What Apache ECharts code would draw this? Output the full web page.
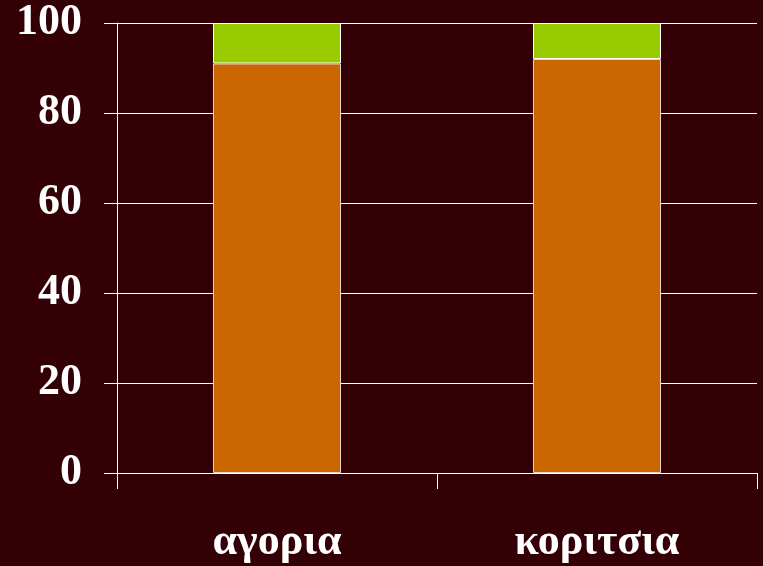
<!DOCTYPE html>
<html>
<head>
<meta charset="utf-8">
<script src="https://cdn.jsdelivr.net/npm/echarts@6/dist/echarts.min.js"></script>
<style>
  html, body { margin: 0; padding: 0; background: #330005; }
  #chart { width: 763px; height: 566px; }
</style>
</head>
<body>
<div id="chart"></div>
<script>
var categories = ["αγορια", "κοριτσια"];
var lowerValues = [91, 92];
var upperValues = [9, 8];
var yTicks = [0, 20, 40, 60, 80, 100];

var chart = echarts.init(document.getElementById("chart"));
var labelFont = {
  color: "#ffffff",
  fontFamily: "Liberation Serif, Times New Roman, serif",
  fontWeight: "bold",
  fontSize: 44
};

chart.setOption({
  backgroundColor: "#330005",
  animation: false,
  grid: { left: 117, right: 6, top: 23, bottom: 93 },
  xAxis: {
    type: "category",
    data: categories,
    axisLine: { lineStyle: { color: "#ffffff", width: 1 } },
    axisTick: { show: true, length: 16, lineStyle: { color: "#ffffff" } },
    axisLabel: Object.assign({ margin: 48 }, labelFont)
  },
  yAxis: {
    type: "value",
    min: yTicks[0],
    max: yTicks[yTicks.length - 1],
    interval: 20,
    axisLine: { show: true, lineStyle: { color: "#ffffff", width: 1 } },
    axisTick: { show: true, length: 13, lineStyle: { color: "#ffffff" } },
    splitLine: { show: true, lineStyle: { color: "#ffffff", width: 1 } },
    axisLabel: Object.assign({ margin: 35 }, labelFont)
  },
  series: [
    {
      name: "lower",
      type: "bar",
      stack: "total",
      barWidth: "40%",
      data: lowerValues,
      itemStyle: { color: "#cc6600", borderColor: "#e8d8c8", borderWidth: 1 }
    },
    {
      name: "upper",
      type: "bar",
      stack: "total",
      data: upperValues,
      itemStyle: { color: "#99cc00", borderColor: "#ffffff", borderWidth: 1 }
    }
  ]
});
</script>
</body>
</html>
